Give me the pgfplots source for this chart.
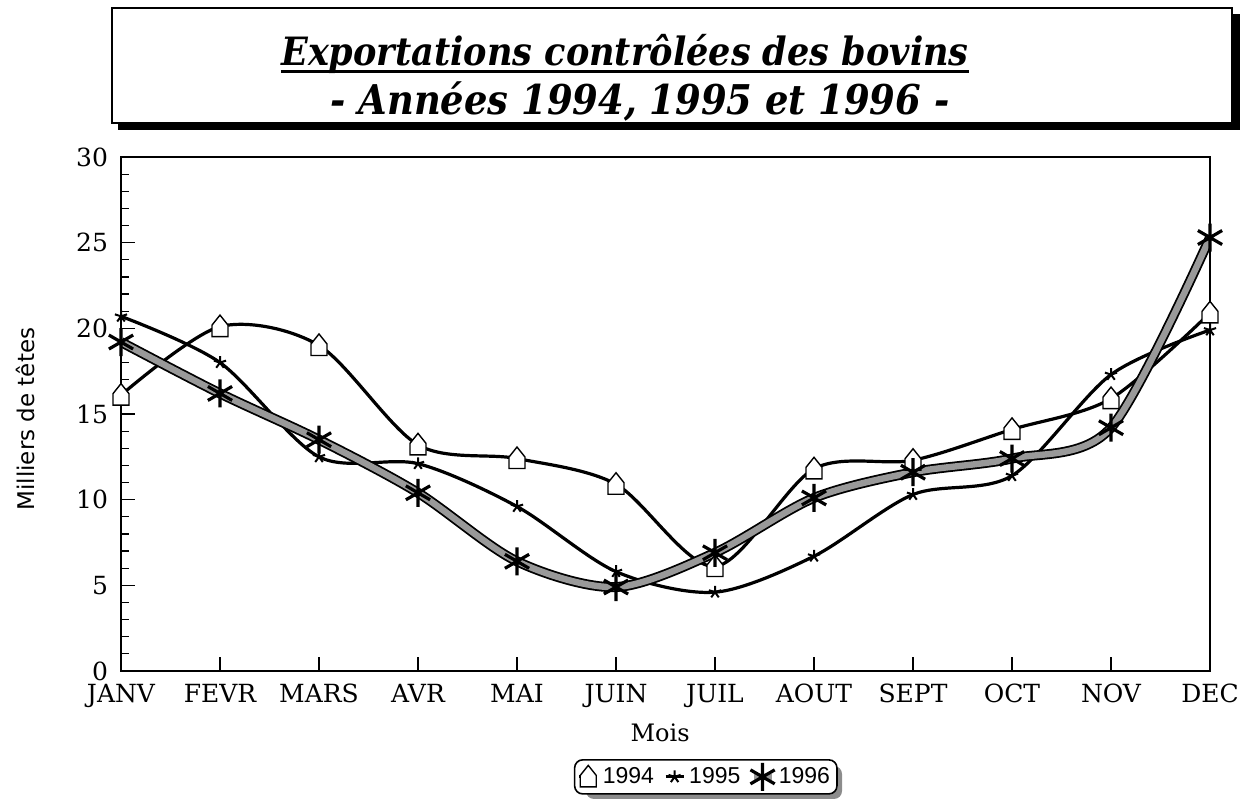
\documentclass[border=0pt]{standalone}
\usepackage{fontspec}
\setmainfont{DejaVu Serif}
\newfontfamily\titlefont{DejaVu Serif Condensed}
\newfontfamily\labsans{DejaVu Sans}
\newfontfamily\legfont{Liberation Sans}
\usepackage{pgfplots}
\pgfplotsset{compat=1.18}
\usetikzlibrary{patterns}

\pgfdeclareplotmark{house}{%
  \pgfpathmoveto{\pgfqpoint{-0.8\pgfplotmarksize}{-\pgfplotmarksize}}%
  \pgfpathlineto{\pgfqpoint{0.8\pgfplotmarksize}{-\pgfplotmarksize}}%
  \pgfpathlineto{\pgfqpoint{0.8\pgfplotmarksize}{0.15\pgfplotmarksize}}%
  \pgfpathlineto{\pgfqpoint{0pt}{1.15\pgfplotmarksize}}%
  \pgfpathlineto{\pgfqpoint{-0.8\pgfplotmarksize}{0.15\pgfplotmarksize}}%
  \pgfpathclose
  \pgfusepathqfillstroke}

\begin{document}
\begin{tikzpicture}
\path[use as bounding box] (0,0) rectangle (625.5pt,406pt);

% title box with shadow
\fill[black] (59pt,341pt) rectangle (620pt,399pt);
\draw[fill=white, line width=0.8pt] (56pt,344.5pt) rectangle (616pt,402pt);
\node[inner sep=0pt, font=\titlefont\bfseries\itshape\fontsize{19.5}{22}\selectfont] (t1) at (312.5pt,379pt) {Exportations contrôlées des bovins};
\draw[line width=1.2pt] ([yshift=-3pt]t1.base west) -- ([yshift=-3pt]t1.base east);
\node[inner sep=0pt, font=\titlefont\bfseries\itshape\fontsize{20.5}{24}\selectfont] at (320pt,355pt) {- Années 1994, 1995 et 1996 -};

% legend shadow
\fill[black!45, rounded corners=4pt] (293pt,6.5pt) rectangle (421pt,23pt);

\begin{axis}[
  at={(60.5pt,70.5pt)}, anchor=south west,
  scale only axis, width=544.5pt, height=257pt,
  xmin=0, xmax=11, ymin=0, ymax=30,
  xtick={0,...,11},
  xticklabels={JANV,FEVR,MARS,AVR,MAI,JUIN,JUIL,AOUT,SEPT,OCT,NOV,DEC},
  ytick={0,5,...,30},
  minor y tick num=4,
  tick align=inside,
  xtick pos=bottom, ytick pos=left,
  major tick length=7pt, minor tick length=4pt,
  tick style={black, line width=0.6pt},
  axis line style={line width=0.8pt},
  /pgf/number format/assume math mode=true,
  tick label style={font=\fontsize{12.5}{14}\selectfont},
  yticklabel style={xshift=-3pt},
  xticklabel style={yshift=-3pt},
  xlabel={Mois},
  xlabel style={at={(axis description cs:0.495,-0.12)}, anchor=center, font=\fontsize{12}{14}\selectfont},
  ylabel={Milliers de têtes},
  ylabel style={at={(axis description cs:-0.088,0.49)}, anchor=center, font=\labsans\fontsize{11.5}{13}\selectfont},
  legend columns=3,
  legend style={at={(axis description cs:0.537,-0.206)}, anchor=center,
    draw=black, line width=0.8pt, rounded corners=4pt, fill=white,
    font=\legfont\fontsize{11.5}{13}\selectfont, inner sep=1.5pt,
    /tikz/every even column/.append style={column sep=3pt}},
  legend image code/.code={\draw[mark repeat=2,mark phase=2,#1] plot coordinates {(0pt,0pt)(4.5pt,0pt)(9pt,0pt)};},
]
\addplot[black, line width=1.6pt, smooth, mark=house, mark size=5pt,
  mark options={solid, fill=white, line width=0.7pt, sharp corners}]
  coordinates {(0,16.1) (1,20.1) (2,19.0) (3,13.2) (4,12.4) (5,10.9) (6,6.1) (7,11.8) (8,12.3) (9,14.1) (10,15.9) (11,20.9)};
\addlegendentry{1994}
\addplot[black, line width=1.6pt, smooth, mark=star, mark size=3.2pt,
  mark options={solid, line width=1pt, sharp corners}]
  coordinates {(0,20.7) (1,18.0) (2,12.5) (3,12.1) (4,9.6) (5,5.8) (6,4.6) (7,6.7) (8,10.3) (9,11.4) (10,17.3) (11,19.9)};
\addlegendentry{1995}
\addplot[black, line width=5pt, smooth, forget plot]
  coordinates {(0,19.2) (1,16.2) (2,13.5) (3,10.4) (4,6.4) (5,4.9) (6,6.9) (7,10.1) (8,11.6) (9,12.4) (10,14.2) (11,25.3)};
\addplot[black!40, line width=3.2pt, smooth, mark=asterisk, mark size=7pt,
  mark options={solid, draw=black, line width=1.6pt, sharp corners}]
  coordinates {(0,19.2) (1,16.2) (2,13.5) (3,10.4) (4,6.4) (5,4.9) (6,6.9) (7,10.1) (8,11.6) (9,12.4) (10,14.2) (11,25.3)};
\addlegendentry{1996}
\end{axis}
\end{tikzpicture}
\end{document}
